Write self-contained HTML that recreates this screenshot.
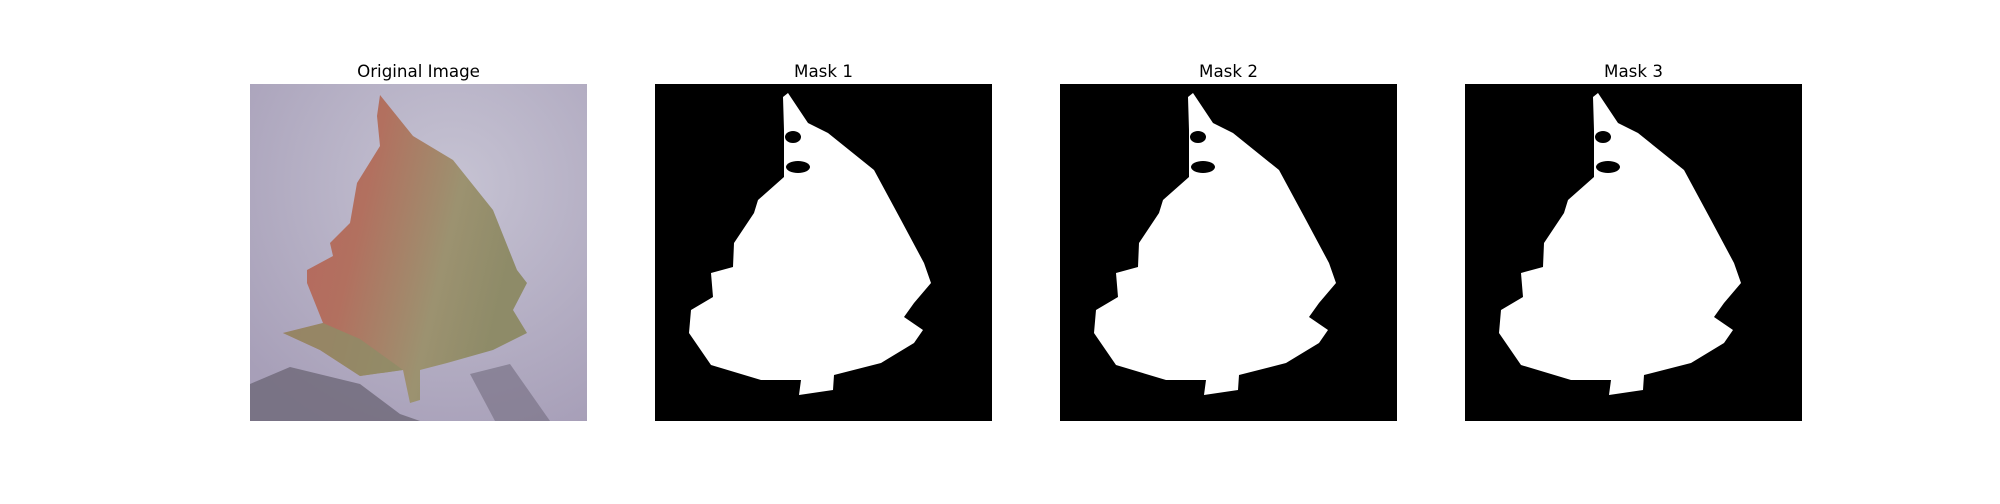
<!DOCTYPE html>
<html><head><meta charset="utf-8"><style>
body{margin:0;background:#fff;width:2000px;height:500px;overflow:hidden;font-family:"DejaVu Sans","Liberation Sans",sans-serif}
</style></head><body>
<svg width="2000" height="500" xmlns="http://www.w3.org/2000/svg">
<defs>
<linearGradient id="leafg" x1="0" y1="0" x2="1" y2="0.3">
<stop offset="0" stop-color="#b8645e"/><stop offset="0.4" stop-color="#b2705f"/><stop offset="0.75" stop-color="#9c9270"/><stop offset="1" stop-color="#8e8b68"/>
</linearGradient>
<radialGradient id="bgg" cx="0.6" cy="0.3" r="0.8">
<stop offset="0" stop-color="#c6c3d3"/><stop offset="1" stop-color="#a79fb8"/>
</radialGradient>
</defs>
<g>
<text x="418.5" y="77" text-anchor="middle" font-size="16.7" fill="#000">Original Image</text>
<g transform="translate(250,84)">
<rect width="337" height="337" fill="url(#bgg)"/>
<polygon points="0,300 40,283 110,300 150,330 170,337 0,337" fill="#6e6878" opacity="0.8"/>
<polygon points="220,290 260,280 300,337 245,337" fill="#7a7488" opacity="0.7"/>
<polygon fill="url(#leafg)" points="130,11 163,52 203,76 243,126 267,186 277,199 263,226 277,249 243,266 197,279 170,286 170,316 160,319 153,286 110,292 70,266 33,249 73,239 57,199 57,186 83,172 80,159 100,139 107,99 130,62 127,32"/>
<polygon points="33,249 73,239 110,255 153,286 110,292 70,266" fill="#8f8c66" opacity="0.8"/>
</g>
</g>
<g id="masks"></g>
</svg>
<script>
const titles=["Mask 1","Mask 2","Mask 3"];
const xs=[655,1060,1465];
const shape="133,9 153,39 173,49 219,86 246,136 269,179 276,199 259,219 249,233 268,246 259,259 226,279 179,291 178,306 144,311 146,296 106,296 56,281 34,249 36,226 58,213 56,189 78,183 79,159 99,129 103,116 129,93 129,46 128,13";
const g=document.getElementById('masks');
const ns="http://www.w3.org/2000/svg";
titles.forEach((t,i)=>{
  const grp=document.createElementNS(ns,'g');
  
  
  const tx=document.createElementNS(ns,'text');
  
  
  tx.setAttribute('x',xs[i]+168.5);tx.setAttribute('y',77);tx.setAttribute('text-anchor','middle');tx.setAttribute('font-size','16.7');tx.textContent=t;
  grp.appendChild(tx);
  const inner=document.createElementNS(ns,'g');
  inner.setAttribute('transform','translate('+xs[i]+',84)');
  const r=document.createElementNS(ns,'rect');
  
  
  r.setAttribute('width',337);r.setAttribute('height',337);r.setAttribute('fill','#000');
  inner.appendChild(r);
  const p=document.createElementNS(ns,'polygon');
  
  
  p.setAttribute('points',shape);p.setAttribute('fill','#fff');
  inner.appendChild(p);
  [[143,83,12,6],[138,53,8,6]].forEach(h=>{
    const e=document.createElementNS(ns,'ellipse');
    
    
    e.setAttribute('cx',h[0]);e.setAttribute('cy',h[1]);e.setAttribute('rx',h[2]);e.setAttribute('ry',h[3]);e.setAttribute('fill','#000');
    inner.appendChild(e);
  });
  grp.appendChild(inner);
  g.appendChild(grp);
});
</script>
</body></html>
